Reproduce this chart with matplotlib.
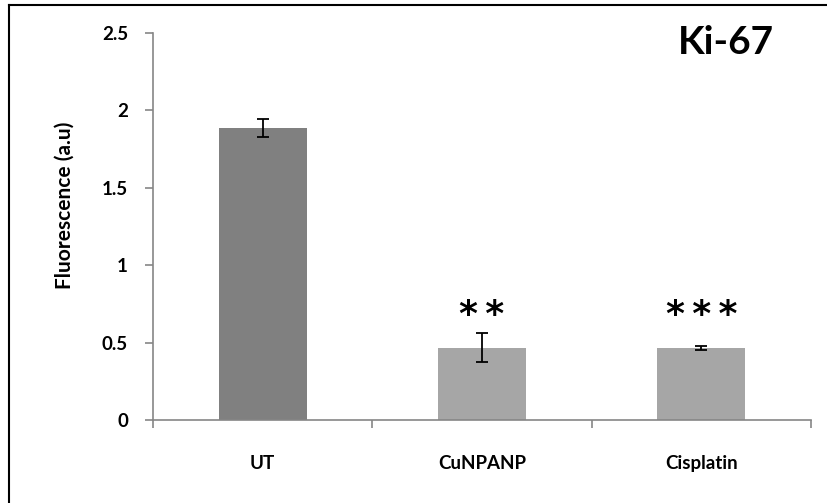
import numpy as np
import matplotlib.pyplot as plt
from matplotlib.lines import Line2D

groups = ['UT', 'CuNPANP', 'Cisplatin']
means = [1.886, 0.468, 0.466]
errors = [0.058, 0.092, 0.013]
stars = ['', '**', '***']
bar_colors = ['#808080', '#a6a6a6', '#a6a6a6']

plt.rcParams['font.family'] = ['Lato', 'DejaVu Sans']

fig = plt.figure(figsize=(8.27, 5.03), dpi=100)
ax = fig.add_axes([153 / 827, 1 - 420 / 503, (811 - 153) / 827, (420 - 33) / 503])

x = np.arange(len(groups))
ax.bar(x, means, width=0.4, color=bar_colors, zorder=2)
ax.errorbar(x, means, yerr=errors, fmt='none', ecolor='black',
            elinewidth=1.3, capsize=4.5, capthick=1.3, zorder=3)

for xi, m, s in zip(x, means, stars):
    if s:
        # thin spaces between the asterisks, like the original
        ax.text(xi, 0.68, '\u2009'.join(s), ha='center', va='center', fontsize=26,
                fontweight='bold', family=['DejaVu Sans'])

ax.set_xlim(-0.5, 2.5)
ax.set_ylim(0, 2.5)
ax.set_yticks([0, 0.5, 1, 1.5, 2, 2.5])
ax.set_yticklabels(['0', '0.5', '1', '1.5', '2', '2.5'], fontweight='bold', fontsize=13.5)
ax.set_xticks(x)
ax.set_xticklabels(groups, fontweight='bold', fontsize=13.5)
ax.set_xticks([-0.5, 0.5, 1.5, 2.5], minor=True)
ax.tick_params(axis='x', which='major', length=0, pad=25)
ax.tick_params(axis='x', which='minor', length=6, width=1.2, color='#868686', direction='out')
ax.tick_params(axis='y', length=6, width=1.2, color='#868686', pad=12)

for side in ['top', 'right']:
    ax.spines[side].set_visible(False)
for side in ['left', 'bottom']:
    ax.spines[side].set_color('#868686')
    ax.spines[side].set_linewidth(1.2)

ax.set_ylabel('Fluorescence (a.u)', fontweight='bold', fontsize=15)
ax.yaxis.set_label_coords(-0.119, 0.556)
ax.text(0.87, 0.975, 'Ki-67', transform=ax.transAxes, ha='center', va='center',
        fontsize=28, fontweight='bold')

# outer chart border
fig.add_artist(Line2D([9 / 827, 9 / 827], [0, 1 - 5 / 503], color='black', lw=1.5))
fig.add_artist(Line2D([9 / 827, 1], [1 - 5 / 503, 1 - 5 / 503], color='black', lw=1.5))

fig.savefig('out.png', dpi=100)
